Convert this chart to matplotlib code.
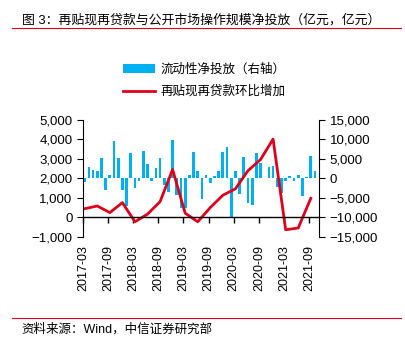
import numpy as np
import matplotlib
matplotlib.use("Agg")
import matplotlib.pyplot as plt
from matplotlib.patches import Patch
from matplotlib.lines import Line2D
from matplotlib.ticker import StrMethodFormatter

plt.rcParams['font.family'] = ['Liberation Sans', 'Noto Sans CJK SC', 'DejaVu Sans']

# monthly net liquidity injection (right axis), 2017-03 .. 2021-10
net_injection = [-800, 3000, 2300, 1800, 5200, -2900, 800, 9700, 5200, -2900,
                 -7100, 6500, -2400, -600, 7000, 3600, -600, 2700, 5200, -1700,
                 -3500, 9900, -4300, -7500, -7500, 800, 6700, 1800, -5200, 800,
                 -1200, 700, 1800, 6700, 8200, -9900, 1800, -3900, 5600, -6200,
                 -6800, 6500, 4000, 200, 3000, 3200, -2300, -3700, -600, 700,
                 -600, 800, -4500, 400, 5700, 1800]

# quarterly change of rediscount / relending (left axis), 2017-03 .. 2021-09
relending_chg = [450, 590, 250, 760, -220, 170, 810, 2460, 220, -220,
                 510, 1140, 1470, 2400, 2970, 4020, -630, -540, 980]

tick_labels = ['2017-03', '2017-09', '2018-03', '2018-09', '2019-03',
               '2019-09', '2020-03', '2020-09', '2021-03', '2021-09']

blue = '#00B0F0'
red = '#E0001B'

months = np.arange(len(net_injection))
quarters = np.arange(len(relending_chg)) * 3

fig = plt.figure(figsize=(4.05, 3.39), dpi=100)
ax1 = fig.add_axes([0.205, 0.301, 0.583, 0.345])
ax2 = ax1.twinx()

ax2.bar(months, net_injection, width=0.65, color=blue)
ax1.plot(quarters, relending_chg, color=red, lw=2)

ax1.set_zorder(ax2.get_zorder() + 1)
ax1.patch.set_visible(False)

ax1.set_xlim(-0.3, 56)
ax1.set_ylim(-1000, 5000)
ax2.set_ylim(-15000, 15000)
ax1.set_yticks(np.arange(-1000, 5001, 1000))
ax2.set_yticks(np.arange(-15000, 15001, 5000))
ax1.yaxis.set_major_formatter(StrMethodFormatter('{x:,.0f}'))
ax2.yaxis.set_major_formatter(StrMethodFormatter('{x:,.0f}'))

ax1.set_xticks(np.arange(0, 55, 6) - 0.4, tick_labels)

for ax in (ax1, ax2):
    ax.spines['top'].set_visible(False)
    ax.spines['bottom'].set_visible(False)
ax2.spines['left'].set_visible(False)
ax1.spines['right'].set_visible(False)
ax1.spines['bottom'].set_visible(True)
ax1.spines['bottom'].set_position(('data', 0))
ax1.spines['bottom'].set_linewidth(1)

ax1.tick_params(axis='x', direction='out', length=4, pad=16, width=1,
                labelrotation=90, labelsize=9)
ax1.tick_params(axis='y', direction='out', length=4, labelsize=9.5)
ax2.tick_params(axis='y', direction='out', length=4, labelsize=9.5)

handles = [Patch(facecolor=blue, edgecolor='none'),
           Line2D([], [], color=red, lw=2)]
fig.legend(handles, ['流动性净投放（右轴）', '再贴现再贷款环比增加'],
           loc='upper left', bbox_to_anchor=(0.275, 0.845), frameon=False,
           fontsize=9, handlelength=2.6, labelspacing=0.75, handletextpad=0.4)

fig.text(0.054, 0.941, '图 3：再贴现再贷款与公开市场操作规模净投放（亿元，亿元）',
         fontsize=9.3, va='center', ha='left')
fig.add_artist(Line2D([0.03, 0.99], [0.9165, 0.9165], color=red, lw=0.8))
fig.add_artist(Line2D([0.03, 0.99], [0.062, 0.062], color=red, lw=0.8))
fig.text(0.054, 0.027, '资料来源：Wind，中信证券研究部', fontsize=9, va='center', ha='left')

fig.savefig('out.png', dpi=100)
